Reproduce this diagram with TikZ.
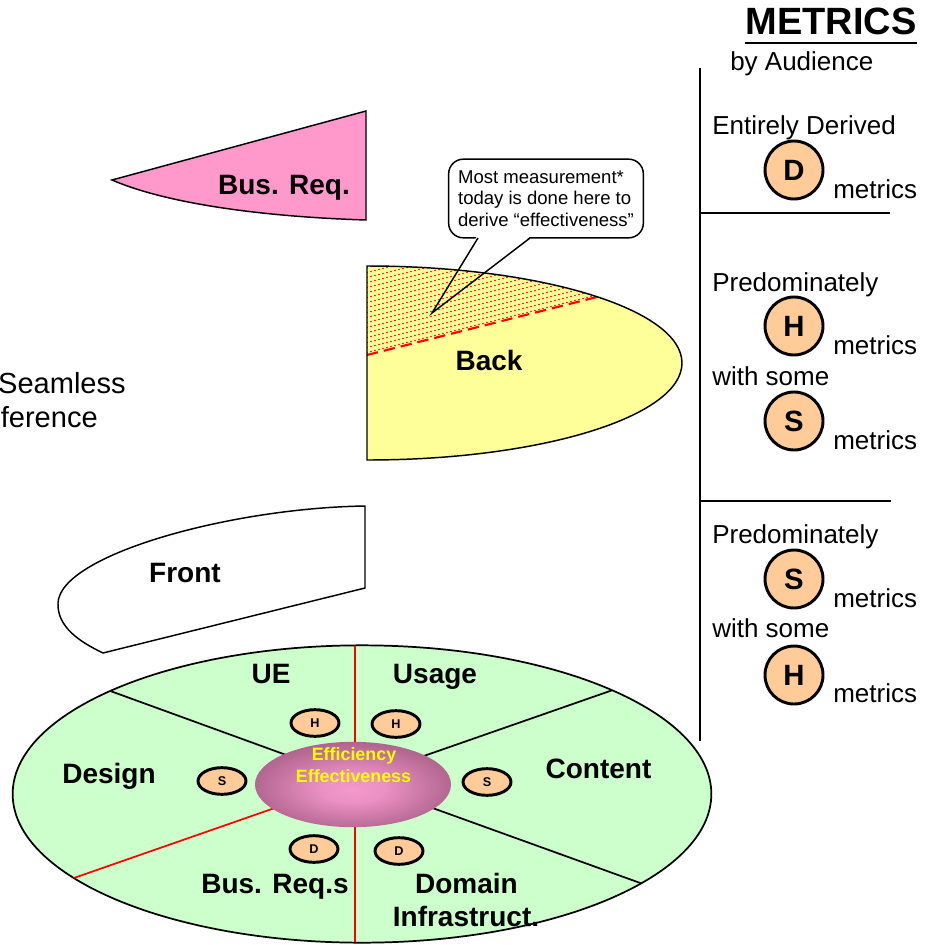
\documentclass[tikz,border=0pt]{standalone}
\usepackage{fontspec}
\setmainfont{Liberation Sans}
\usetikzlibrary{shapes.geometric}

\definecolor{busreq}{HTML}{FF99CC}
\definecolor{backfill}{HTML}{FFFF99}
\definecolor{wheelfill}{HTML}{CCFFCC}
\definecolor{dotfill}{HTML}{FFCC99}
\definecolor{hubpink}{HTML}{F598CC}
\definecolor{hubdark}{HTML}{7A3C5E}
\definecolor{hubtext}{HTML}{FFFF00}

\pgfdeclareradialshading{hubshade}{\pgfpoint{0bp}{-3bp}}{%
  color(0bp)=(hubpink); color(8bp)=(hubpink!92!hubdark);
  color(38bp)=(hubdark!88!hubpink); color(50bp)=(hubdark)}

\tikzset{
  outline/.style={draw=black, line width=1.1pt},
  lbl/.style={font=\fontsize{21}{25}\selectfont\bfseries, inner sep=0, anchor=base},
  side/.style={font=\fontsize{19.5}{23}\selectfont, inner sep=0, anchor=base west},
  bigdot/.style={circle, draw, line width=2.2pt, fill=dotfill, minimum size=43.5pt,
    inner sep=0, font=\fontsize{22}{25}\selectfont\bfseries},
  smalldot/.style={ellipse, draw, line width=2.2pt, fill=dotfill, minimum width=36pt,
    minimum height=20pt, inner sep=0, font=\fontsize{9.5}{11}\selectfont\bfseries},
  hublbl/.style={font=\fontsize{13.4}{15}\selectfont\bfseries, text=hubtext, inner sep=0, anchor=base},
  spoke/.style={line width=1.3pt, draw=black},
  redspoke/.style={line width=1.3pt, draw=red},
  rule/.style={line width=1.5pt}
}

\begin{document}
\begin{tikzpicture}[x=0.75pt, y=-0.75pt]
\useasboundingbox (0,0) rectangle (926,945);

% ---- Bus. Req. wedge ----
\draw[outline, fill=busreq] (112,180) -- (366,111) -- (366,220)
  .. controls (270,217) and (170,205) .. (112,180) -- cycle;
\node[lbl] (busreqlbl) at (284,194) {Bus. Req.};

% ---- callout box ----
\node[draw, line width=1.1pt, fill=white, rounded corners=11pt, minimum width=146pt,
  minimum height=59pt, inner sep=3pt, align=left,
  font=\fontsize{13.9}{16.2}\selectfont] (note) at (546,198.5)
  {Most measurement*\\today is done here to\\derive “effectiveness”};
\coordinate (pl) at (478,238);
\coordinate (pr) at (530,238);
\coordinate (tip) at (432,313);
\fill[white] (477,236) -- (tip) -- (531,236) -- cycle;

% ---- Back half-ellipse ----
\path[fill=backfill] (367,266) arc[start angle=-90, end angle=90, x radius=315, y radius=97] -- cycle;
\begin{scope}
  \clip (367,266) arc[start angle=-90, end angle=90, x radius=315, y radius=97] -- cycle;
  \clip (360,250) -- (360,356.8) -- (700,271) -- (700,250) -- cycle;
  % slanted rows of red dots above the dashed line
  \fill[red] \foreach \i in {0,...,58} { \foreach \j in {0,...,22}
    { ({367+4*\i},{352.5-5*\j-\i}) circle[radius=0.9] } };
\end{scope}
\coordinate (dashL) at (367,355);
\coordinate (dashR) at (597,297);
\draw[red, line width=1.6pt, dash pattern=on 8.5pt off 4.5pt] (dashL) -- (dashR);
\draw[outline] (367,266) arc[start angle=-90, end angle=90, x radius=315, y radius=97] -- cycle;
\node[lbl] (backlbl) at (489,370) {Back};

% callout pointer
\draw[line width=1.1pt, line join=miter] (pl) -- (tip) -- (pr);

% ---- Seamless text ----
\node[font=\fontsize{21.8}{26}\selectfont, inner sep=0, anchor=base east] (seam1) at (126,393) {Seamless};
\node[font=\fontsize{21.8}{26}\selectfont, inner sep=0, anchor=base east] (seam2) at (98,427) {ference};

% ---- Front shape ----
\draw[outline, fill=white] (365,506) .. controls (230,508) and (60,555) .. (58,603)
  .. controls (57,627) and (80,642) .. (103,653) -- (365,588) -- cycle;
\node[lbl] (frontlbl) at (185,582) {Front};

% ---- wheel ----
\node[ellipse, draw, line width=1.3pt, fill=wheelfill, minimum width=524pt,
  minimum height=223pt, inner sep=0] (wheel) at (362,794) {};
\coordinate (axis) at (355,780);
\coordinate (endUE) at (-12,646.5);
\coordinate (endUsage) at (737.5,646.5);
\coordinate (endDom) at (787,936);
\coordinate (endBus) at (-71,928.5);
\coordinate (endTop) at (355,600);
\coordinate (endBot) at (355,960);
\begin{scope}
  \clip (362,794) ellipse [x radius=349, y radius=148.5];
  \draw[spoke] (axis) -- (endUE);
  \draw[spoke] (axis) -- (endUsage);
  \draw[spoke] (axis) -- (endDom);
  \draw[redspoke] (axis) -- (endBus);
  \draw[redspoke] (endTop) -- (endBot);
\end{scope}

\node[ellipse, shade, shading=hubshade, minimum width=147pt, minimum height=64pt,
  inner sep=0] (hub) at (353,784.5) {};
\node[hublbl] (eff1) at (354,760) {Efficiency};
\node[hublbl] (eff2) at (353.5,782) {Effectiveness};

\node[smalldot] (hL) at (315,723) {H};
\node[smalldot] (hR) at (396,724) {H};
\node[smalldot] (sL) at (222,781) {S};
\node[smalldot] (sR) at (487,782) {S};
\node[smalldot] (dL) at (314,849) {D};
\node[smalldot] (dR) at (399,851) {D};

\node[lbl] (ue) at (271,683) {UE};
\node[lbl] (usage) at (435,683) {Usage};
\node[lbl] (design) at (109,783) {Design};
\node[lbl] (content) at (598.5,778) {Content};
\node[lbl] (busreqs) at (275,893) {Bus. Req.s};
\node[lbl] (domain) at (466.5,893) {Domain};
\node[lbl] (infra) at (466,926) {Infrastruct.};

% ---- metrics legend ----
\node[font=\fontsize{28.5}{30}\selectfont\bfseries, anchor=base, inner sep=0] (title) at (831,35) {METRICS};
\draw[line width=2.2pt] ([yshift=-6pt]title.base west) -- ([yshift=-6pt]title.base east);
\node[side] (byaud) at (730,71) {by Audience};

\coordinate (ruleTop) at (700,68);
\coordinate (ruleBot) at (700,741);
\draw[rule] (ruleTop) -- (ruleBot);
\coordinate (sepA) at (700,213);
\coordinate (sepAend) at (890,213);
\coordinate (sepB) at (700,501);
\coordinate (sepBend) at (891,501);
\draw[rule] (sepA) -- (sepAend);
\draw[rule] (sepB) -- (sepBend);

\node[side] (t1) at (712,135) {Entirely Derived};
\node[bigdot] (bD) at (794,170) {D};
\node[side] (m1) at (833,198) {metrics};

\node[side] (t2) at (712,291) {Predominately};
\node[bigdot] (bH1) at (794,326) {H};
\node[side] (m2) at (833,354) {metrics};
\node[side] (t3) at (712,385) {with some};
\node[bigdot] (bS1) at (794,421) {S};
\node[side] (m3) at (833,449) {metrics};

\node[side] (t4) at (712,543) {Predominately};
\node[bigdot] (bS2) at (794,579) {S};
\node[side] (m4) at (833,607) {metrics};
\node[side] (t5) at (712,637) {with some};
\node[bigdot] (bH2) at (794,675) {H};
\node[side] (m5) at (833,702) {metrics};
\end{tikzpicture}
\end{document}
